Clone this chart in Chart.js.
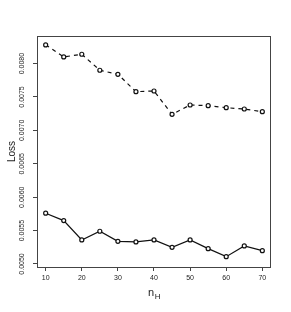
<!DOCTYPE html>
<html>
<head>
<meta charset="utf-8">
<script src="https://cdn.jsdelivr.net/npm/chart.js@4/dist/chart.umd.min.js"></script>
<style>
  html, body { margin: 0; padding: 0; background: #fff; }
  canvas { display: block; }
</style>
</head>
<body>
<canvas id="chartCanvas" width="291" height="312"></canvas>
<script>
// hidden units n_H
const nH = [10, 15, 20, 25, 30, 35, 40, 45, 50, 55, 60, 65, 70];

// upper (dashed) and lower (solid) loss curves
const lossDashed = [0.00828, 0.00810, 0.00814, 0.00790, 0.00784, 0.00758, 0.00759,
                    0.00724, 0.00738, 0.00737, 0.00734, 0.00732, 0.00728];
const lossSolid = [0.00576, 0.00565, 0.00536, 0.00549, 0.00534, 0.00533, 0.00536,
                   0.00525, 0.00536, 0.00523, 0.00511, 0.00527, 0.00520];

const xTicks = [10, 20, 30, 40, 50, 60, 70];
const yTicks = [0.0050, 0.0055, 0.0060, 0.0065, 0.0070, 0.0075, 0.0080];

const FONT = '"Liberation Sans", Arial, sans-serif';
const INK = '#111';

function toPoints(values) {
    return nH.map((x, i) => ({ x: x, y: values[i] }));
}

// box round the plot, rotated y labels and the n_H title
const rStyle = {
    id: 'rStyle',
    afterDraw(chart) {
        const ctx = chart.ctx;
        const area = chart.chartArea;
        const yScale = chart.scales.y;

        ctx.save();
        ctx.strokeStyle = '#444';
        ctx.lineWidth = 1;
        ctx.strokeRect(area.left + 0.5, area.top + 0.5,
            area.right - area.left - 1, area.bottom - area.top);

        ctx.fillStyle = '#222';
        ctx.textAlign = 'center';
        ctx.textBaseline = 'middle';
        ctx.font = '7px ' + FONT;
        yTicks.forEach(function (v) {
            const py = yScale.getPixelForValue(v);
            ctx.save();
            ctx.translate(22, py);
            ctx.rotate(-Math.PI / 2);
            ctx.fillText(v.toFixed(4), 0, 0);
            ctx.restore();
        });

        // y title
        ctx.save();
        ctx.font = '10px ' + FONT;
        ctx.translate(12, (area.top + area.bottom) / 2);
        ctx.rotate(-Math.PI / 2);
        ctx.fillText('Loss', 0, 0);
        ctx.restore();

        // x title with subscript
        const cx = (area.left + area.right) / 2;
        ctx.font = '11px ' + FONT;
        const wN = ctx.measureText('n').width;
        ctx.font = '8px ' + FONT;
        const wH = ctx.measureText('H').width;
        const x0 = cx - (wN + wH) / 2;
        ctx.textAlign = 'left';
        ctx.textBaseline = 'alphabetic';
        ctx.font = '11px ' + FONT;
        ctx.fillText('n', x0, 296);
        ctx.font = '8px ' + FONT;
        ctx.fillText('H', x0 + wN + 0.5, 299);
        ctx.restore();
    },
};

const ctx = document.getElementById('chartCanvas');
new Chart(ctx, {
    type: 'line',
    data: {
        datasets: [
            {
                data: toPoints(lossDashed),
                borderColor: INK,
                borderWidth: 1.2,
                borderDash: [4, 4],
                pointRadius: 2,
                pointBorderWidth: 1.2,
                pointBorderColor: INK,
                pointBackgroundColor: '#fff',
                tension: 0,
            },
            {
                data: toPoints(lossSolid),
                borderColor: INK,
                borderWidth: 1.2,
                pointRadius: 2,
                pointBorderWidth: 1.2,
                pointBorderColor: INK,
                pointBackgroundColor: '#fff',
                tension: 0,
            },
        ],
    },
    options: {
        responsive: false,
        animation: false,
        devicePixelRatio: 1,
        layout: { padding: { top: 36, right: 20, left: 0, bottom: 0 } },
        plugins: {
            legend: { display: false },
            tooltip: { enabled: false },
        },
        scales: {
            x: {
                type: 'linear',
                min: 7.6,
                max: 72.4,
                afterFit: function (scale) { scale.height = 45; },
                afterBuildTicks: function (scale) {
                    scale.ticks = xTicks.map(v => ({ value: v }));
                },
                grid: {
                    drawOnChartArea: false,
                    tickLength: 4,
                    tickColor: '#444',
                },
                border: { display: false },
                ticks: {
                    color: '#222',
                    font: { size: 7, family: FONT },
                    padding: 3,
                    maxRotation: 0,
                    callback: v => String(v),
                },
            },
            y: {
                type: 'linear',
                min: 0.004955,
                max: 0.008413,
                afterFit: function (scale) { scale.width = 37; },
                afterBuildTicks: function (scale) {
                    scale.ticks = yTicks.map(v => ({ value: v }));
                },
                grid: {
                    drawOnChartArea: false,
                    tickLength: 4,
                    tickColor: '#444',
                },
                border: { display: false },
                ticks: { display: false },
            },
        },
    },
    plugins: [rStyle],
});
</script>
</body>
</html>
